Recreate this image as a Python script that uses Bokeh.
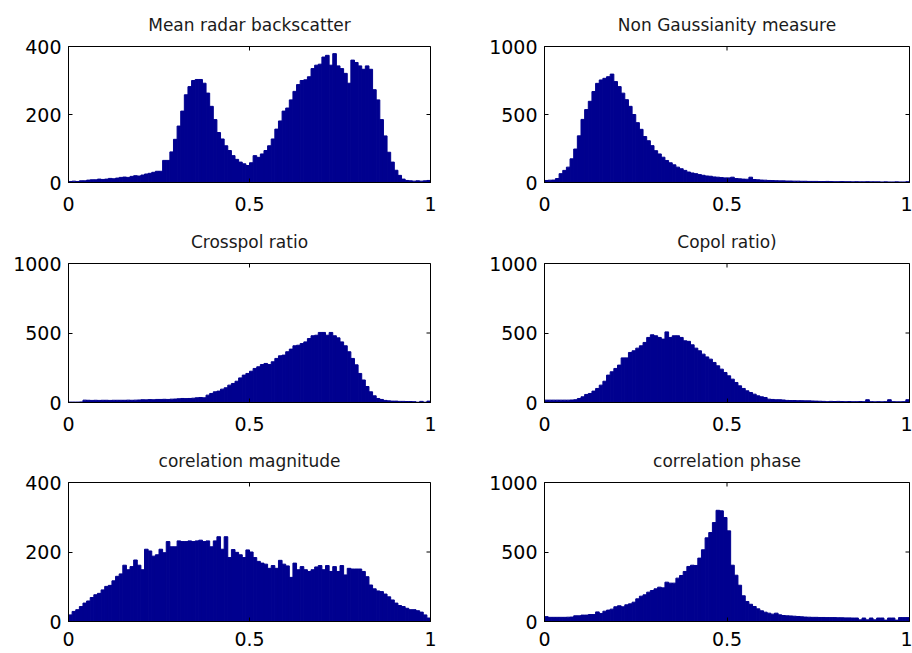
import numpy as np
from bokeh.plotting import figure
from bokeh.layouts import gridplot
from bokeh.models import ColumnDataSource, FixedTicker, Range1d
from bokeh.embed import file_html
from bokeh.resources import INLINE

# ---------------- data (histogram counts, 100 bins over [0, 1]) ----------------
titles = ["Mean radar backscatter", "Non Gaussianity measure", "Crosspol ratio",
          "Copol ratio)", "corelation magnitude", "correlation phase"]

x_ticks = [0, 0.5, 1]
x_tick_labels = ["0", "0.5", "1"]
y_ticks_400 = [0, 200, 400]
y_ticks_1000 = [0, 500, 1000]

backscatter = [3, 4, 3, 5, 5, 7, 8, 8, 10, 9,
               10, 12, 11, 13, 15, 16, 15, 18, 20, 19,
               22, 25, 27, 30, 33, 33, 65, 65, 90, 127,
               166, 210, 258, 282, 300, 303, 303, 292, 263, 224,
               185, 147, 128, 108, 94, 79, 68, 60, 55, 50,
               58, 79, 74, 84, 94, 108, 128, 157, 181, 210,
               219, 243, 268, 288, 300, 302, 311, 335, 345, 348,
               369, 374, 345, 379, 343, 335, 321, 292, 360, 353,
               343, 333, 343, 333, 273, 243, 185, 137, 89, 60,
               36, 21, 10, 6, 5, 4, 5, 4, 5, 6]

non_gauss = [15, 17, 18, 29, 65, 89, 113, 174, 246, 343,
             464, 536, 597, 669, 729, 754, 766, 778, 797, 742,
             705, 657, 609, 560, 500, 440, 391, 338, 307, 271,
             234, 210, 186, 162, 145, 130, 113, 101, 89, 77,
             70, 65, 58, 53, 48, 46, 41, 39, 36, 34,
             34, 39, 29, 27, 25, 24, 39, 22, 20, 18,
             17, 15, 14, 13, 12, 12, 11, 11, 10, 10,
             9, 9, 8, 8, 8, 7, 7, 8, 7, 6,
             6, 7, 6, 6, 5, 6, 5, 5, 6, 5,
             5, 5, 4, 5, 4, 4, 5, 4, 4, 6]

crosspol = [3, 3, 3, 4, 17, 16, 15, 16, 15, 16,
            16, 15, 16, 16, 16, 16, 17, 16, 17, 18,
            20, 19, 21, 20, 22, 22, 23, 22, 24, 25,
            27, 29, 28, 29, 31, 34, 36, 34, 53, 65,
            77, 82, 96, 106, 125, 137, 153, 177, 197, 209,
            225, 245, 257, 273, 281, 273, 293, 317, 336, 341,
            365, 384, 408, 412, 424, 436, 460, 480, 484, 504,
            504, 484, 504, 480, 465, 436, 408, 365, 317, 271,
            209, 162, 115, 77, 48, 29, 22, 15, 12, 10,
            10, 8, 8, 7, 7, 6, 2, 8, 2, 10]

copol = [17, 17, 17, 17, 17, 17, 17, 18, 20, 29,
         41, 58, 65, 82, 101, 125, 153, 197, 221, 245,
         269, 321, 321, 360, 372, 391, 408, 432, 468, 487,
         480, 468, 456, 508, 468, 480, 480, 468, 444, 440,
         415, 391, 372, 348, 328, 312, 288, 264, 240, 216,
         192, 168, 144, 120, 101, 84, 72, 60, 48, 41,
         36, 24, 22, 20, 20, 18, 15, 14, 14, 13,
         13, 12, 12, 11, 10, 9, 8, 6, 8, 7,
         8, 7, 6, 7, 6, 6, 7, 6, 20, 6,
         5, 6, 5, 6, 20, 6, 5, 5, 6, 20]

corr_mag = [19, 29, 34, 43, 53, 59, 69, 77, 81, 91,
            101, 104, 117, 130, 137, 162, 149, 158, 177, 162,
            149, 208, 203, 188, 192, 208, 198, 230, 215, 215,
            232, 230, 230, 232, 230, 232, 234, 230, 232, 215,
            232, 244, 208, 244, 184, 207, 199, 192, 184, 206,
            200, 184, 173, 168, 165, 153, 161, 153, 176, 165,
            160, 127, 168, 149, 158, 149, 144, 149, 157, 161,
            149, 161, 144, 158, 144, 161, 134, 153, 151, 151,
            151, 144, 129, 105, 94, 88, 86, 79, 71, 62,
            53, 46, 43, 38, 34, 34, 31, 27, 19, 10]

corr_phase = [35, 30, 30, 30, 30, 30, 31, 32, 41, 41,
              46, 46, 50, 50, 69, 58, 74, 82, 89, 106,
              113, 106, 120, 127, 139, 163, 182, 192, 211, 223,
              235, 247, 242, 283, 276, 276, 312, 331, 360, 396,
              405, 403, 456, 516, 602, 640, 712, 800, 796, 748,
              652, 405, 333, 261, 185, 144, 124, 108, 91, 77,
              67, 60, 53, 60, 48, 43, 41, 40, 38, 36,
              34, 32, 31, 30, 30, 29, 29, 28, 28, 28,
              27, 27, 26, 26, 25, 25, 12, 25, 12, 25,
              12, 25, 25, 10, 25, 25, 10, 28, 28, 28]

series = [backscatter, non_gauss, crosspol, copol, corr_mag, corr_phase]
y_max = [400, 1000, 1000, 1000, 400, 1000]
y_ticks = [y_ticks_400, y_ticks_1000, y_ticks_1000, y_ticks_1000, y_ticks_400, y_ticks_1000]

BAR = "#00008F"
FONT = "DejaVu Sans"

# layout geometry: (height, border_top, border_bottom, x-label standoff) per row
rows = [(213, 46, 30, 14), (220, 50, 30, 14), (220, 49, 32, 10)]
# (width, border_left, border_right) per column
cols = [(458, 68, 28), (454, 86, 3)]


def style_axis(ax, ticks, labels, standoff):
    ax.ticker = FixedTicker(ticks=ticks)
    ax.axis_line_color = "black"
    ax.axis_line_width = 1
    ax.major_tick_line_color = "black"
    ax.major_tick_in = 4
    ax.major_tick_out = 0
    ax.minor_tick_line_color = None
    ax.major_label_text_font = FONT
    ax.major_label_text_color = "black"
    ax.major_label_text_font_size = "19px"
    ax.major_label_standoff = standoff
    ax.major_label_overrides = {t: l for t, l in zip(ticks, labels)}


figs = []
for i, (counts, title, ymax, yt) in enumerate(zip(series, titles, y_max, y_ticks)):
    r, c = divmod(i, 2)
    h, bt, bb, xso = rows[r]
    w, bl, br = cols[c]
    n = len(counts)
    edges = np.linspace(0, 1, n + 1)
    src = ColumnDataSource(dict(left=edges[:-1], right=edges[1:], top=counts))
    p = figure(width=w, height=h, output_backend="svg", toolbar_location=None,
               x_range=Range1d(0, 1), y_range=Range1d(0, ymax),
               min_border_left=bl, min_border_right=br,
               min_border_top=bt, min_border_bottom=bb,
               background_fill_color="white", border_fill_color="white")
    p.quad(left="left", right="right", top="top", bottom=0, source=src,
           fill_color=BAR, line_color=BAR, line_width=1)
    # mirrored inward ticks on the top and right frame edges (clipped to the frame)
    p.scatter(x=x_ticks, y=[ymax] * len(x_ticks), marker="dash", angle=np.pi / 2,
              size=8, line_color="black", line_width=1)
    p.scatter(x=[1] * len(yt), y=yt, marker="dash", size=8,
              line_color="black", line_width=1)
    p.grid.visible = False
    p.outline_line_color = "black"
    p.outline_line_alpha = 1
    style_axis(p.xaxis[0], x_ticks, x_tick_labels, standoff=xso)
    style_axis(p.yaxis[0], yt, [str(v) for v in yt], standoff=7)
    p.title.text = title
    p.title.align = "center"
    p.title.text_font = FONT
    p.title.text_font_size = "17px"
    p.title.text_font_style = "normal"
    p.title.text_color = "#1a1a1a"
    p.title.standoff = 23
    figs.append(p)

grid = gridplot([[figs[0], figs[1]], [figs[2], figs[3]], [figs[4], figs[5]]],
                toolbar_location=None)

with open("out.html", "w") as f:
    f.write(file_html(grid, INLINE))
